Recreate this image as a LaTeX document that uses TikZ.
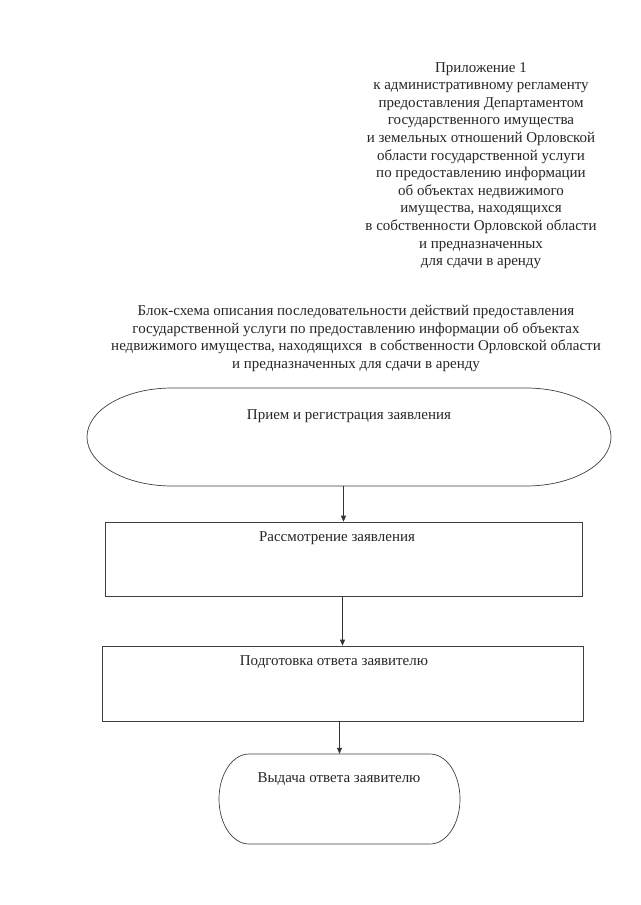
\documentclass[tikz,border=0pt]{standalone}
\usepackage{fontspec}
\setmainfont{Liberation Serif}
\usetikzlibrary{arrows.meta}
\begin{document}
\begin{tikzpicture}[x=1pt,y=-1pt,
  txt/.style={font=\fontsize{15}{17.6}\selectfont, inner sep=0pt, align=center, text=black!85},
  boxline/.style={draw=black!75, line width=0.7pt},
  arr/.style={draw=black!80, line width=0.7pt, -{Triangle[length=6pt,width=5pt]}},
  ghost/.style={draw=none, inner sep=0pt}]
\useasboundingbox (0,0) rectangle (640,905);
\fill[white] (0,0) rectangle (640,905);

% header
\node[txt, anchor=north] (hdr) at (481,62) {Приложение 1\\
к административному регламенту\\
предоставления Департаментом\\
государственного имущества\\
и земельных отношений Орловской\\
области государственной услуги\\
по предоставлению информации\\
об объектах недвижимого\\
имущества, находящихся\\
в собственности Орловской области\\
и предназначенных\\
для сдачи в аренду};

% title
\node[txt, anchor=north, font=\fontsize{15}{17.7}\selectfont] (ttl) at (356,305) {Блок-схема описания последовательности действий предоставления\\
государственной услуги по предоставлению информации об объектах\\
недвижимого имущества, находящихся\ \ в собственности Орловской области\\
и предназначенных для сдачи в аренду};

% shape 1 : elongated terminator
\node[ghost, minimum width=524pt, minimum height=98pt] (s1) at (349,437) {};
\draw[boxline] (172,388) -- (526,388)
  .. controls (573,388) and (611,410) .. (611,437)
  .. controls (611,464) and (573,486) .. (526,486)
  -- (172,486)
  .. controls (125,486) and (87,464) .. (87,437)
  .. controls (87,410) and (125,388) .. (172,388) -- cycle;
\node[txt, anchor=center] (t1) at (349,416) {Прием и регистрация заявления};

% shape 2 : rectangle
\node[ghost, boxline, minimum width=477pt, minimum height=74pt] (s2) at (343.5,559) {};
\node[txt, anchor=center] (t2) at (337,538) {Рассмотрение заявления};

% shape 3 : rectangle
\node[ghost, boxline, minimum width=481pt, minimum height=75pt] (s3) at (342.5,683.5) {};
\node[txt, anchor=center] (t3) at (334,662) {Подготовка ответа заявителю};

% shape 4 : terminator
\node[ghost, minimum width=241pt, minimum height=90pt] (s4) at (339.5,799) {};
\draw[boxline] (249,754) -- (430,754)
  .. controls (446.6,754) and (460,774.1) .. (460,799)
  .. controls (460,823.9) and (446.6,844) .. (430,844)
  -- (249,844)
  .. controls (232.4,844) and (219,823.9) .. (219,799)
  .. controls (219,774.1) and (232.4,754) .. (249,754) -- cycle;
\node[txt, anchor=center] (t4) at (339,779) {Выдача ответа заявителю};

% connectors
\draw[arr] (s1.south -| s2.north) -- (s2.north);
\draw[arr] (s2.south -| s3.north) -- (s3.north);
\draw[arr] (s3.south -| s4.north) -- (s4.north);
\end{tikzpicture}
\end{document}
